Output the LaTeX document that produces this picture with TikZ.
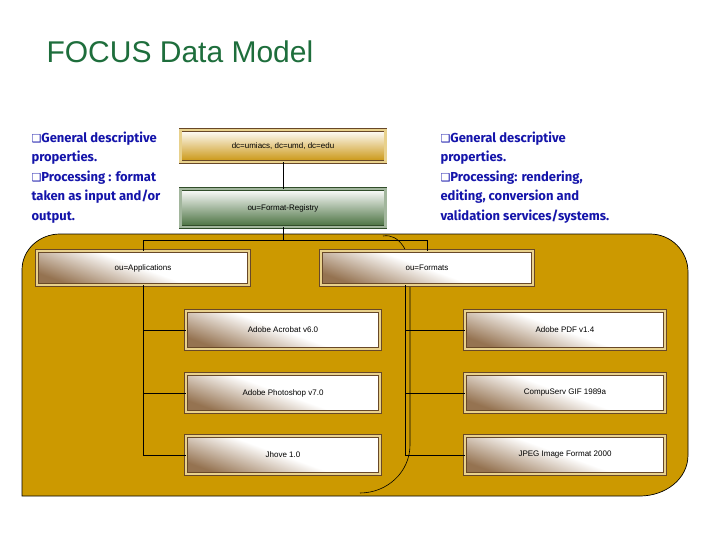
\documentclass[tikz,border=0pt]{standalone}
\usepackage{fontspec}
\setmainfont{Liberation Sans}
\newfontfamily\bluefont{Fira Sans}
\newfontfamily\djfont{DejaVu Sans}
\newcommand{\sqb}{{\djfont\fontsize{11}{11}\selectfont ❑}}
\definecolor{gold}{RGB}{204,153,0}
\definecolor{brownb}{RGB}{130,90,50}
\definecolor{greenb}{RGB}{70,110,60}
\definecolor{titleg}{RGB}{30,110,60}
\definecolor{navy}{RGB}{20,20,170}
\begin{document}
\begin{tikzpicture}[x=1pt,y=-1pt,
  box/.style={draw=brownb!80!black, double=gold!45!white, double distance=2.2pt, line width=0.5pt, inner sep=0pt, font=\fontsize{8}{9}\selectfont,
    top color=white, bottom color=brownb!85, middle color=white, shading angle=-20},
  gbox/.style={box, draw=greenb!70!black, double=greenb!50!white, bottom color=greenb},
  tbox/.style={box, bottom color=gold!80!brown},
  link/.style={black, line width=0.6pt},
  note/.style={anchor=north west, align=left, text=navy, font=\bluefont\bfseries\fontsize{13}{19.5}\selectfont}]
\useasboundingbox (0,0) rectangle (720,540);
\fill[white] (0,0) rectangle (720,540);
\node[anchor=west, text=titleg, font=\fontsize{30}{34}\selectfont] (title) at (43,52) {FOCUS Data Model};
% gold region
\draw[fill=gold, line width=0.7pt] (22,496) -- (22,270) to[out=90,in=180] (60,234) -- (650,234) to[out=0,in=90] (688,272) -- (688,455) to[out=-90,in=0] (640,496) -- cycle;
\draw[line width=0.6pt] (383,236) to[out=10,in=90] (410,270) -- (410,445) to[out=-90,in=0] (360,493);
\coordinate (j) at (283,240);
\coordinate (fb) at (405,285);
\coordinate (fe) at (405,455);
\draw[link] (fb) -- (fe);
% nodes
\node[tbox, minimum width=205pt, minimum height=32pt] (root) at (283,146) {dc=umiacs, dc=umd, dc=edu};
\node[gbox, minimum width=205pt, minimum height=38pt] (reg) at (283,208) {ou=Format-Registry};
\node[box, minimum width=212pt, minimum height=34pt] (apps) at (143,268) {ou=Applications};
\node[box, minimum width=212pt, minimum height=34pt] (fmts) at (427,268) {ou=Formats};
\node[box, minimum width=194pt, minimum height=38pt] (a1) at (283,330) {Adobe Acrobat v6.0};
\node[box, minimum width=194pt, minimum height=38pt] (a2) at (283,393) {Adobe Photoshop v7.0};
\node[box, minimum width=194pt, minimum height=38pt] (a3) at (283,455) {Jhove 1.0};
\node[box, minimum width=200pt, minimum height=38pt] (f1) at (565,330) {Adobe PDF v1.4};
\node[box, minimum width=200pt, minimum height=38pt] (f2) at (565,393) {CompuServ GIF 1989a};
\node[box, minimum width=200pt, minimum height=38pt] (f3) at (565,455) {JPEG Image Format 2000};
\draw[link] (root) -- (reg);
\draw[link] (reg) -- (j);
\draw[link] (apps.north) -- (apps.north |- j) -- (fmts.north |- j) -- (fmts.north);
\draw[link] (apps.south) |- (a1.west);
\draw[link] (apps.south) |- (a2.west);
\draw[link] (apps.south) |- (a3.west);
\draw[link] (fb) |- (f1.west);
\draw[link] (fb) |- (f2.west);
\draw[link] (fb) |- (f3.west);
\node[note] (ln) at (28,128) {\sqb General descriptive\\properties.\\\sqb Processing : format\\taken as input and/or\\output.};
\node[note] (rn) at (437,128) {\sqb General descriptive\\properties.\\\sqb Processing: rendering,\\editing, conversion and\\validation services/systems.};
\end{tikzpicture}
\end{document}
